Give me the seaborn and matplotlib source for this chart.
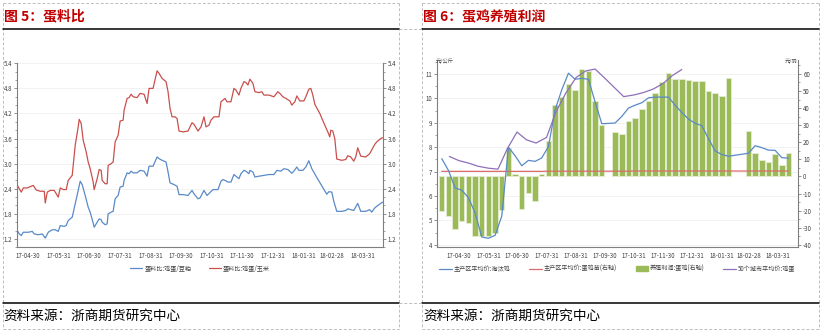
import numpy as np
import pandas as pd
import matplotlib
matplotlib.use("Agg")
import matplotlib.pyplot as plt
import matplotlib.dates as mdates
from matplotlib.lines import Line2D
from matplotlib.patches import Patch
from matplotlib.ticker import FixedLocator, MultipleLocator, NullFormatter
import seaborn as sns

sns.set_style("white")
plt.rcParams['font.family'] = ['Noto Sans CJK SC', 'DejaVu Sans']
plt.rcParams['axes.unicode_minus'] = False

nan = np.nan

# ---------------- Figure 5 data: 蛋料比 ----------------
corn_dates = ["2017-04-19", "2017-04-21", "2017-04-23", "2017-04-25", "2017-04-29", "2017-05-03", "2017-05-05",
              "2017-05-08", "2017-05-12", "2017-05-16", "2017-05-17", "2017-05-19", "2017-05-22", "2017-05-26",
              "2017-05-30", "2017-06-01", "2017-06-04", "2017-06-07", "2017-06-09", "2017-06-13", "2017-06-16",
              "2017-06-19", "2017-06-20", "2017-06-22", "2017-06-24", "2017-06-27", "2017-06-29", "2017-07-01",
              "2017-07-04", "2017-07-05", "2017-07-08", "2017-07-10", "2017-07-12", "2017-07-13", "2017-07-16",
              "2017-07-18", "2017-07-19", "2017-07-22", "2017-07-24", "2017-07-26", "2017-07-29", "2017-07-31",
              "2017-08-03", "2017-08-04", "2017-08-07", "2017-08-09", "2017-08-11", "2017-08-13", "2017-08-17",
              "2017-08-20", "2017-08-24", "2017-08-27", "2017-08-29", "2017-09-02", "2017-09-06", "2017-09-08",
              "2017-09-11", "2017-09-15", "2017-09-17", "2017-09-19", "2017-09-21", "2017-09-24", "2017-09-26",
              "2017-09-28", "2017-10-02", "2017-10-07", "2017-10-11", "2017-10-13", "2017-10-17", "2017-10-20",
              "2017-10-23", "2017-10-25", "2017-10-28", "2017-10-30", "2017-11-02", "2017-11-07", "2017-11-09",
              "2017-11-11", "2017-11-13", "2017-11-15", "2017-11-19", "2017-11-22", "2017-11-24", "2017-11-27",
              "2017-11-29", "2017-12-02", "2017-12-04", "2017-12-06", "2017-12-08", "2017-12-11", "2017-12-13",
              "2017-12-17", "2017-12-20", "2017-12-22", "2017-12-27", "2018-01-01", "2018-01-05", "2018-01-07",
              "2018-01-10", "2018-01-13", "2018-01-17", "2018-01-19", "2018-01-22", "2018-01-24", "2018-01-27",
              "2018-01-31", "2018-02-02", "2018-02-05", "2018-02-07", "2018-02-09", "2018-02-11", "2018-02-16",
              "2018-02-21", "2018-02-24", "2018-02-26", "2018-02-27", "2018-03-01", "2018-03-03", "2018-03-05",
              "2018-03-10", "2018-03-14", "2018-03-16", "2018-03-19", "2018-03-22", "2018-03-24", "2018-03-26",
              "2018-03-29", "2018-04-03", "2018-04-07", "2018-04-09", "2018-04-12", "2018-04-14", "2018-04-18",
              "2018-04-20"]
egg_corn = [2.48, 2.40, 2.32, 2.42, 2.42, 2.46, 2.48,
            2.37, 2.34, 2.34, 2.06, 2.32, 2.36, 2.36,
            2.20, 2.42, 2.38, 2.38, 2.60, 2.72, 3.44,
            3.88, 4.06, 3.96, 3.56, 3.28, 3.04, 2.88,
            2.56, 2.38, 2.64, 2.86, 2.84, 2.60, 2.52,
            2.52, 2.96, 3.00, 3.04, 3.52, 3.68, 4.02,
            4.04, 4.28, 4.56, 4.58, 4.66, 4.60, 4.58,
            4.68, 4.66, 4.44, 4.80, 4.80, 5.22, 5.16,
            5.04, 4.96, 4.72, 4.32, 4.12, 4.12, 4.08,
            3.78, 3.76, 3.78, 3.98, 3.94, 3.78, 3.88,
            4.12, 3.88, 3.92, 4.04, 4.12, 4.12, 4.48,
            4.52, 4.56, 4.48, 4.48, 4.80, 4.76, 4.64,
            4.80, 4.96, 4.94, 4.88, 5.02, 4.92, 4.72,
            4.70, 4.72, 4.64, 4.64, 4.60, 4.72, 4.68,
            4.60, 4.56, 4.50, 4.40, 4.48, 4.62, 4.50,
            4.50, 4.60, 4.78, 4.80, 4.64, 4.42, 4.20,
            3.92, 3.76, 3.64, 3.80, 3.78, 3.60, 3.11,
            3.08, 3.10, 3.19, 3.16, 3.06, 3.16, 3.38,
            3.18, 3.16, 3.24, 3.33, 3.46, 3.52, 3.60,
            3.62]

meal_dates = ["2017-04-19", "2017-04-21", "2017-04-23", "2017-04-25", "2017-04-30", "2017-05-04", "2017-05-06",
              "2017-05-10", "2017-05-14", "2017-05-17", "2017-05-20", "2017-05-24", "2017-05-27", "2017-05-30",
              "2017-06-01", "2017-06-05", "2017-06-07", "2017-06-09", "2017-06-13", "2017-06-16", "2017-06-19",
              "2017-06-21", "2017-06-23", "2017-06-26", "2017-06-29", "2017-07-01", "2017-07-04", "2017-07-05",
              "2017-07-08", "2017-07-10", "2017-07-12", "2017-07-13", "2017-07-16", "2017-07-18", "2017-07-19",
              "2017-07-22", "2017-07-24", "2017-07-26", "2017-07-29", "2017-07-31", "2017-08-03", "2017-08-04",
              "2017-08-07", "2017-08-09", "2017-08-11", "2017-08-13", "2017-08-17", "2017-08-20", "2017-08-24",
              "2017-08-27", "2017-08-29", "2017-09-02", "2017-09-06", "2017-09-08", "2017-09-11", "2017-09-15",
              "2017-09-17", "2017-09-19", "2017-09-23", "2017-09-26", "2017-09-28", "2017-10-02", "2017-10-07",
              "2017-10-11", "2017-10-13", "2017-10-17", "2017-10-19", "2017-10-23", "2017-10-26", "2017-11-01",
              "2017-11-06", "2017-11-09", "2017-11-11", "2017-11-13", "2017-11-16", "2017-11-19", "2017-11-22",
              "2017-11-24", "2017-11-27", "2017-11-29", "2017-12-02", "2017-12-04", "2017-12-07", "2017-12-08",
              "2017-12-11", "2017-12-13", "2017-12-17", "2017-12-22", "2017-12-27", "2018-01-01", "2018-01-04",
              "2018-01-08", "2018-01-11", "2018-01-15", "2018-01-19", "2018-01-21", "2018-01-24", "2018-01-26",
              "2018-01-30", "2018-02-02", "2018-02-05", "2018-02-08", "2018-02-13", "2018-02-18", "2018-02-23",
              "2018-02-25", "2018-02-28", "2018-03-02", "2018-03-05", "2018-03-10", "2018-03-14", "2018-03-16",
              "2018-03-19", "2018-03-22", "2018-03-26", "2018-03-29", "2018-04-03", "2018-04-05", "2018-04-07",
              "2018-04-09", "2018-04-12", "2018-04-14", "2018-04-18", "2018-04-20"]
egg_meal = [1.40, 1.32, 1.28, 1.36, 1.36, 1.38, 1.32,
            1.30, 1.32, 1.22, 1.36, 1.42, 1.42, 1.38,
            1.52, 1.50, 1.52, 1.64, 1.72, 2.04, 2.36,
            2.58, 2.50, 2.24, 1.96, 1.84, 1.58, 1.48,
            1.60, 1.68, 1.66, 1.60, 1.54, 1.56, 1.80,
            1.84, 1.86, 2.16, 2.24, 2.44, 2.46, 2.60,
            2.78, 2.76, 2.82, 2.78, 2.78, 2.84, 2.82,
            2.70, 2.94, 2.94, 3.16, 3.12, 3.08, 3.04,
            2.80, 2.54, 2.50, 2.46, 2.26, 2.26, 2.24,
            2.36, 2.28, 2.16, 2.18, 2.36, 2.24, 2.38,
            2.38, 2.58, 2.62, 2.60, 2.56, 2.56, 2.74,
            2.70, 2.64, 2.76, 2.84, 2.82, 2.76, 2.84,
            2.80, 2.68, 2.70, 2.72, 2.74, 2.74, 2.84,
            2.82, 2.88, 2.86, 2.77, 2.82, 2.92, 2.84,
            2.84, 2.92, 3.07, 2.88, 2.67, 2.47, 2.27,
            2.33, 2.32, 2.10, 1.86, 1.86, 1.88, 1.92,
            1.90, 1.88, 2.05, 1.86, 1.86, 1.88, 1.90,
            1.84, 1.94, 1.98, 2.05, 2.08]

ratio_ticks = [1.2, 1.8, 2.4, 3.0, 3.6, 4.2, 4.8, 5.4]
month_ends = ["2017-04-30", "2017-05-31", "2017-06-30", "2017-07-31", "2017-08-31", "2017-09-30",
              "2017-10-31", "2017-11-30", "2017-12-31", "2018-01-31", "2018-02-28", "2018-03-31"]
month_labels = ["17-04-30", "17-05-31", "17-06-30", "17-07-31", "17-08-31", "17-09-30",
                "17-10-31", "17-11-30", "17-12-31", "18-01-31", "18-02-28", "18-03-31"]

# ---------------- Figure 6 data: 蛋鸡养殖利润 ----------------
week_dates = pd.date_range("2017-04-12", "2018-04-11", freq="7D")
cull_hen = [7.53, 7.05, 6.33, 6.24, 5.93, 5.31, 4.32, 4.27, 4.39, 5.18,
            8.00, 7.65, 7.24, 7.46, 7.42, 7.56, 8.03, 9.53, 10.35, 11.03,
            10.78, 10.82, 10.78, 9.85, 8.96, nan, 8.99, 9.26, 9.60, 9.72,
            9.82, 10.02, 10.05, 10.05, 10.05, 9.72, 9.42, 9.15, 8.98, 8.88,
            8.35, 7.85, 7.70, 7.63, nan, nan, 7.75, 8.06, 7.98, 7.88,
            7.87, 7.57, 7.55]
chick_price = [3.0, 3.0, 3.0, 3.0, 3.0, 3.0, 3.0, 3.0, 3.0, 3.0,
               3.0, 3.0, 3.0, 3.0, 3.0, 3.0, 3.1, 3.1, 3.1, 3.1,
               3.1, 3.1, 3.1, 3.1, 3.1, nan, 3.1, 3.1, 3.1, 3.2,
               3.2, 3.2, 3.2, 3.2, 3.2, 3.2, 3.2, 3.2, 3.2, 3.2,
               3.2, 3.2, 3.2, 3.2, nan, nan, 3.2, 3.2, 3.2, 3.2,
               3.2, 3.2, 3.2]
profit = [-20.2, -23.0, -30.8, -26.2, -27.5, -34.7, -35.0, -35.0, -33.0, -19.6,
          16.4, 1.3, -18.8, -9.5, -14.3, 1.3, 21.0, 42.0, 46.7, 54.2,
          50.5, 62.9, 61.5, 44.4, 30.2, nan, 26.0, 25.1, 32.7, 34.5,
          39.4, 44.3, 49.1, 55.3, 60.8, 57.1, 57.2, 56.3, 55.9, 55.9,
          50.1, 49.1, 47.2, 57.7, nan, nan, 26.9, 13.6, 9.4, 8.3,
          12.9, 6.8, 13.6]
egg_dates = ["2017-04-20", "2017-04-30", "2017-05-10", "2017-05-20", "2017-05-31", "2017-06-10", "2017-06-20",
             "2017-06-30", "2017-07-10", "2017-07-20", "2017-07-31", "2017-08-10", "2017-08-20", "2017-08-31",
             "2017-09-10", "2017-09-20", "2017-09-30", "2017-10-10", "2017-10-20", "2017-10-31", "2017-11-10",
             "2017-11-20", "2017-11-30", "2017-12-10", "2017-12-20"]
egg_price = [7.62, 7.45, 7.35, 7.22, 7.14, 7.10, 7.95,
             8.62, 8.30, 8.17, 8.40, 9.45, 10.20, 10.85,
             11.12, 11.20, 10.83, 10.45, 10.07, 10.14, 10.24,
             10.38, 10.60, 10.93, 11.18]

BLUE = "#5A8AC6"
RED = "#C9504D"
RED2 = "#DB6B6B"
GREEN = "#9BBB59"
PURPLE = "#8E70B8"
AXC = "#7F7F7F"
TXC = "#404040"
GRID = "#F0F0F0"
FS = 4.4

W, H = 822, 333
fig = plt.figure(figsize=(W / 100, H / 100), dpi=100)
fig.patch.set_facecolor("white")


def box(x0, y0, x1, y1):
    return [x0 / W, 1 - y1 / H, (x1 - x0) / W, (y1 - y0) / H]


def hline(x0, x1, y, **kw):
    fig.add_artist(Line2D([x0 / W, x1 / W], [1 - y / H, 1 - y / H], transform=fig.transFigure, **kw))


def vline(x, y0, y1, **kw):
    fig.add_artist(Line2D([x / W, x / W], [1 - y0 / H, 1 - y1 / H], transform=fig.transFigure, **kw))


def style_axis(ax, sides):
    for s in ["top", "left", "right", "bottom"]:
        ax.spines[s].set_visible(s in sides)
        ax.spines[s].set_color(AXC)
        ax.spines[s].set_linewidth(0.8)
    ax.tick_params(which="major", direction="out", length=2.5, width=0.6, color=AXC,
                   labelsize=FS, labelcolor=TXC, pad=1.2)
    ax.tick_params(which="minor", direction="out", length=1.4, width=0.5, color=AXC)


me_num = mdates.date2num(pd.to_datetime(month_ends))

# ---------------- left chart ----------------
ax1 = fig.add_axes(box(17.3, 63.3, 382.7, 247.3))
for y in ratio_ticks:
    ax1.axhline(y, color=GRID, lw=0.6, zorder=0)
df_meal = pd.DataFrame({"date": pd.to_datetime(meal_dates), "v": egg_meal})
df_corn = pd.DataFrame({"date": pd.to_datetime(corn_dates), "v": egg_corn})
sns.lineplot(data=df_meal, x="date", y="v", ax=ax1, color=BLUE, lw=0.9, legend=False, errorbar=None)
sns.lineplot(data=df_corn, x="date", y="v", ax=ax1, color=RED, lw=0.9, legend=False, errorbar=None)
ax1.set_xlim(pd.Timestamp("2017-04-19"), pd.Timestamp("2018-04-20"))
ax1.set_ylim(1.0, 5.4)
ax1.set_xlabel("")
ax1.set_ylabel("")
ax1.yaxis.set_major_locator(FixedLocator(ratio_ticks))
ax1.yaxis.set_minor_locator(MultipleLocator(0.2))
ax1.set_yticklabels([f"{v:.1f}" for v in ratio_ticks])
ax1.xaxis.set_major_locator(FixedLocator(me_num))
ax1.set_xticklabels(month_labels)
style_axis(ax1, ["left", "bottom"])
ax1r = ax1.twinx()
ax1r.set_ylim(1.0, 5.4)
ax1r.yaxis.set_major_locator(FixedLocator(ratio_ticks))
ax1r.yaxis.set_minor_locator(MultipleLocator(0.2))
ax1r.set_yticklabels([f"{v:.1f}" for v in ratio_ticks])
style_axis(ax1r, ["right"])
ax1r.set_ylabel("")
h1 = [Line2D([], [], color=BLUE, lw=0.9), Line2D([], [], color=RED, lw=0.9)]
ax1.legend(h1, ["蛋料比:鸡蛋/豆粕", "蛋料比:鸡蛋/玉米"], loc="center", bbox_to_anchor=(0.5, -0.115),
           ncol=2, frameon=False, fontsize=FS, handlelength=2.0, handletextpad=0.4, columnspacing=2.8,
           labelcolor=TXC)

# ---------------- right chart ----------------
LY = (3.9, 11.57)
RY = (-40 + (LY[0] - 4) * 100 / 7, -40 + (LY[1] - 4) * 100 / 7)
ax2 = fig.add_axes(box(437, 60, 798, 247.3))
ax2r = ax2.twinx()
ax2.set_zorder(ax2r.get_zorder() + 1)
ax2.patch.set_visible(False)
for y in range(4, 12):
    ax2r.axhline(-40 + (y - 4) * 100 / 7, color=GRID, lw=0.6, zorder=0)

prof = np.array(profit)
mask = ~np.isnan(prof)
ax2r.bar(week_dates[mask], prof[mask], width=5.7, color=GREEN, edgecolor="#E4ECD3", linewidth=0.6, zorder=2)
df_chick = pd.DataFrame({"date": week_dates, "v": chick_price}).dropna()
sns.lineplot(data=df_chick, x="date", y="v", ax=ax2r, color=RED2, lw=0.9, legend=False, errorbar=None, zorder=3)
df_hen = pd.DataFrame({"date": week_dates, "v": cull_hen}).dropna()
df_egg = pd.DataFrame({"date": pd.to_datetime(egg_dates), "v": egg_price})
sns.lineplot(data=df_hen, x="date", y="v", ax=ax2, color=BLUE, lw=0.9, legend=False, errorbar=None)
sns.lineplot(data=df_egg, x="date", y="v", ax=ax2, color=PURPLE, lw=0.9, legend=False, errorbar=None)

xl = (pd.Timestamp("2017-04-07"), pd.Timestamp("2018-04-21"))
for a in (ax2, ax2r):
    a.set_xlim(*xl)
    a.set_xlabel("")
    a.set_ylabel("")
ax2.set_ylim(*LY)
ax2r.set_ylim(*RY)
ax2.yaxis.set_major_locator(FixedLocator(list(range(4, 12))))
ax2.yaxis.set_minor_locator(MultipleLocator(0.5))
ax2r.yaxis.set_major_locator(FixedLocator(list(range(-40, 61, 10))))
ax2r.yaxis.set_minor_locator(MultipleLocator(5))
ax2.xaxis.set_major_locator(FixedLocator(me_num))
ax2.set_xticklabels(month_labels)
ax2r.xaxis.set_major_locator(FixedLocator(me_num))
style_axis(ax2, ["left", "bottom"])
style_axis(ax2r, ["right"])
ax2r.tick_params(axis="x", bottom=False, labelbottom=False)

h2 = [Line2D([], [], color=BLUE, lw=0.9), Line2D([], [], color=RED2, lw=0.9),
      Patch(facecolor=GREEN, edgecolor=GREEN), Line2D([], [], color=PURPLE, lw=0.9)]
ax2.legend(h2, ["主产区平均价:淘汰鸡", "主产区平均价:蛋鸡苗(右轴)", "养殖利润:蛋鸡(右轴)", "50个城市平均价:鸡蛋"],
           loc="center", bbox_to_anchor=(0.0, -0.14, 1.0, 0.05), mode="expand", ncol=4, frameon=False,
           fontsize=FS, handlelength=2.0, handleheight=0.9, handletextpad=0.4, borderaxespad=0,
           labelcolor=TXC)

fig.text(436 / W, 1 - 61 / H, "元/公斤", fontsize=3.8, color=TXC, ha="left", va="center")
fig.text(797 / W, 1 - 61.5 / H, "元/羽", fontsize=3.8, color=TXC, ha="right", va="center")

# ---------------- frames, titles, rules, footers ----------------
dash = dict(color="#BDBDBD", lw=0.7, linestyle=(0, (3, 2)))
for (x0, x1) in [(3, 399.3), (421.7, 818.7)]:
    hline(x0, x1, 3, **dash)
    hline(x0, x1, 329.3, **dash)
    vline(x0, 3, 329.3, **dash)
    vline(x1, 3, 329.3, **dash)
    hline(x0, x1, 29.3, color="black", lw=1.1)
    hline(x0, x1, 302.7, color="black", lw=1.1)
hline(399.3, 421.7, 29.3, **dash)
hline(399.3, 421.7, 302.7, **dash)

fig.text(3.5 / W, 1 - 16.5 / H, "图 5：蛋料比", fontsize=10, fontweight="bold", color="#C00000",
         ha="left", va="center")
fig.text(423 / W, 1 - 16.5 / H, "图 6：蛋鸡养殖利润", fontsize=10, fontweight="bold", color="#C00000",
         ha="left", va="center")
fig.text(3.5 / W, 1 - 315.5 / H, "资料来源：浙商期货研究中心", fontsize=9.8, color="black",
         ha="left", va="center")
fig.text(423 / W, 1 - 315.5 / H, "资料来源：浙商期货研究中心", fontsize=9.8, color="black",
         ha="left", va="center")

fig.savefig("out.png", dpi=100, facecolor="white")
